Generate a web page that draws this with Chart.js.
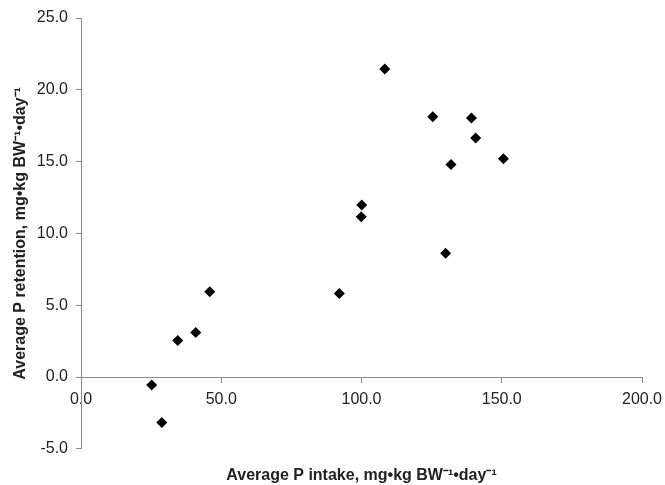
<!DOCTYPE html>
<html>
<head>
<meta charset="utf-8">
<script src="https://cdn.jsdelivr.net/npm/chart.js@4"></script>
<style>
  html, body { margin: 0; padding: 0; background: #ffffff; }
  #wrap { width: 665px; height: 485px; }
</style>
</head>
<body>
<div id="wrap"><canvas id="c" width="665" height="485"></canvas></div>
<script>
// Data
const intake = [25.2, 28.8, 34.5, 40.9, 45.9, 92.1, 100.1, 99.9, 108.3, 125.4, 130.0, 131.9, 139.2, 140.7, 150.6];
const retention = [-0.56, -3.16, 2.55, 3.1, 5.94, 5.82, 11.98, 11.16, 21.45, 18.13, 8.61, 14.8, 18.03, 16.64, 15.2];
const xTicks = [0, 50, 100, 150, 200];
const yTicks = [-5, 0, 5, 10, 15, 20, 25];
const xTitle = 'Average P intake, mg\u2022kg BW\u207B\u00B9\u2022day\u207B\u00B9';
const yTitle = 'Average P retention, mg\u2022kg BW\u207B\u00B9\u2022day\u207B\u00B9';

const points = intake.map((x, i) => ({ x: x, y: retention[i] }));
const FONT = '"Liberation Sans", Arial, Helvetica, sans-serif';
const axisGray = '#8a8a8a';
const textColor = '#222222';

new Chart(document.getElementById('c'), {
  type: 'scatter',
  data: {
    datasets: [{
      data: points,
      pointStyle: 'rectRot',
      pointRadius: 5.5,
      pointHoverRadius: 5.5,
      backgroundColor: '#000000',
      borderColor: '#000000',
      borderWidth: 0
    }]
  },
  options: {
    responsive: false,
    animation: false,
    events: [],
    layout: { padding: { top: 18, right: 23, bottom: 0, left: 0 } },
    plugins: {
      legend: { display: false },
      tooltip: { enabled: false },
      title: {
        display: true,
        position: 'bottom',
        fullSize: false,
        text: xTitle,
        color: textColor,
        font: { family: FONT, size: 16, weight: 'bold' },
        padding: { top: 17, bottom: 0 }
      }
    },
    scales: {
      x: {
        type: 'linear',
        position: { y: 0 },
        min: 0,
        max: 200,
        afterBuildTicks: (s) => { s.ticks = xTicks.map(v => ({ value: v })); },
        afterFit: (s) => { s.paddingRight = 20; s.paddingLeft = 0; },
        ticks: {
          color: textColor,
          font: { family: FONT, size: 16 },
          padding: 8,
          maxRotation: 0,
          autoSkip: false,
          callback: (v) => Number(v).toFixed(1)
        },
        grid: { drawOnChartArea: false, drawTicks: true, tickLength: 5, color: axisGray },
        border: { display: true, color: axisGray, width: 1 }
      },
      y: {
        type: 'linear',
        position: 'left',
        min: -5,
        max: 25,
        afterBuildTicks: (s) => { s.ticks = yTicks.map(v => ({ value: v })); },
        afterFit: (s) => { s.width = 81; },
        ticks: {
          color: textColor,
          font: { family: FONT, size: 16 },
          padding: 8,
          autoSkip: false,
          callback: (v) => Number(v).toFixed(1)
        },
        grid: { drawOnChartArea: false, drawTicks: true, tickLength: 5, color: axisGray },
        border: { display: true, color: axisGray, width: 1 },
        title: {
          display: true,
          text: yTitle,
          color: textColor,
          font: { family: FONT, size: 16, weight: 'bold' },
          padding: { top: 11, bottom: 0 }
        }
      }
    }
  }
});
</script>
</body>
</html>
